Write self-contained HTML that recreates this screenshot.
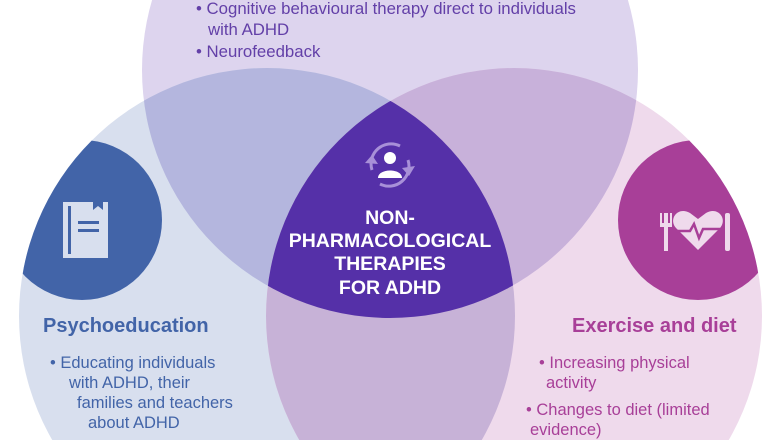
<!DOCTYPE html>
<html><head><meta charset="utf-8"><style>
html,body{margin:0;padding:0;background:#fff;width:780px;height:440px;overflow:hidden;}
svg{display:block;}
text{font-family:"Liberation Sans",Arial,sans-serif;}
</style></head><body>
<svg width="780" height="440" viewBox="0 0 780 440" xmlns="http://www.w3.org/2000/svg">
<defs>
<clipPath id="cT"><circle cx="390" cy="70" r="248"/></clipPath>
<clipPath id="cL"><circle cx="267" cy="316" r="248"/></clipPath>
<clipPath id="cR"><circle cx="514" cy="316" r="248"/></clipPath>
</defs>
<circle cx="390" cy="70" r="248" fill="#ddd4ee"/>
<circle cx="267" cy="316" r="248" fill="#d8dfee"/>
<circle cx="514" cy="316" r="248" fill="#efdaec"/>
<g clip-path="url(#cT)"><circle cx="267" cy="316" r="248" fill="#b4b6de"/><circle cx="514" cy="316" r="248" fill="#c8b1da"/></g>
<g clip-path="url(#cL)"><circle cx="514" cy="316" r="248" fill="#c7b2d7"/></g>
<g clip-path="url(#cL)"><g clip-path="url(#cR)"><circle cx="390" cy="70" r="248" fill="#5530a8"/></g></g>
<g clip-path="url(#cL)"><circle cx="82" cy="220" r="80" fill="#4264a8"/></g>
<g clip-path="url(#cR)"><circle cx="698" cy="220" r="80" fill="#a83f98"/></g>
<path d="M63 202 H93 V210 L98 206 L103 210 V202 H108 V258 H63 Z" fill="#d8dfee"/>
<rect x="68" y="206" width="3" height="48" fill="#4264a8"/>
<rect x="78" y="221" width="21" height="3" fill="#4264a8"/>
<rect x="78" y="229" width="21" height="3" fill="#4264a8"/>
<g fill="#efdaec">
<rect x="664" y="213" width="4" height="38"/><rect x="660" y="213" width="2" height="12"/><rect x="670" y="213" width="2" height="12"/><rect x="660" y="223" width="12" height="4"/>
<rect x="725" y="213" width="5" height="38" rx="2"/>
<path d="M698 250 L676 228 C668 219 678 206 690 213 L698 219 L706 213 C718 206 728 219 720 228 Z"/>
</g>
<polyline points="676,231 690,231 694,224 699,238 703,229 720,229" fill="none" stroke="#a83f98" stroke-width="2.5"/>
<g fill="none" stroke="#a890d8" stroke-width="3">
<path d="M372 170 A20 20 0 0 1 400 146"/>
<path d="M408 160 A20 20 0 0 1 380 184"/>
</g>
<path d="M365 163 L372 155 L378 164 Z" fill="#a890d8"/>
<path d="M402 168 L415 166 L409 176 Z" fill="#a890d8"/>
<circle cx="390" cy="158" r="6" fill="#fff"/>
<path d="M378 178 C378 168 402 168 402 178 Z" fill="#fff"/>
<g fill="#6340a8" font-size="16.8">
<text x="196" y="14">• Cognitive behavioural therapy direct to individuals</text>
<text x="208" y="35">with ADHD</text>
<text x="196" y="57">• Neurofeedback</text>
</g>
<g fill="#fff" font-size="19.5" font-weight="bold" text-anchor="middle">
<text x="390" y="224">NON-</text>
<text x="390" y="247">PHARMACOLOGICAL</text>
<text x="390" y="270">THERAPIES</text>
<text x="390" y="294">FOR ADHD</text>
</g>
<text x="43" y="332" fill="#4264a8" font-size="20" font-weight="bold">Psychoeducation</text>
<g fill="#4264a8" font-size="16.5">
<text x="50" y="368">• Educating individuals</text>
<text x="69" y="388">with ADHD, their</text>
<text x="77" y="408">families and teachers</text>
<text x="88" y="428">about ADHD</text>
</g>
<text x="572" y="332" fill="#a83f98" font-size="20" font-weight="bold">Exercise and diet</text>
<g fill="#a83f98" font-size="16.5">
<text x="539" y="368">• Increasing physical</text>
<text x="546" y="388">activity</text>
<text x="526" y="415">• Changes to diet (limited</text>
<text x="530" y="435">evidence)</text>
</g>
</svg>
</body></html>
